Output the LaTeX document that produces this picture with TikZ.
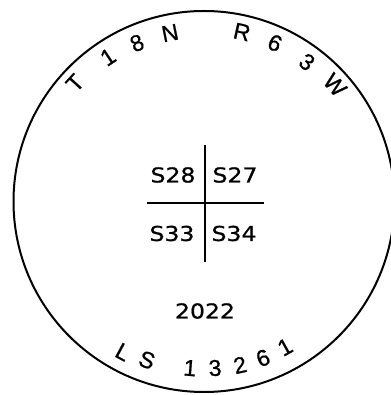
\documentclass[tikz,border=0pt]{standalone}
\usepackage{fontspec}
\newfontfamily\labfont[FakeStretch=1.15,FakeBold=0.8]{DejaVu Sans}
\newfontfamily\arcfont[FakeBold=0.8]{Liberation Sans}
\begin{document}
\begin{tikzpicture}[x=1pt,y=-1pt,
  lab/.style={inner sep=0pt,font=\labfont\fontsize{20.5}{22}\selectfont},
  arcl/.style={inner sep=0pt,font=\arcfont\fontsize{23}{25}\selectfont},
  line/.style={line width=2pt}]
\useasboundingbox (0,0) rectangle (390,395);
% outer circle
\draw[line] (204,201.5) circle[radius=190.5pt];
% cross
\coordinate (vt) at (205,145);
\coordinate (vb) at (205,262);
\coordinate (hl) at (147,203);
\coordinate (hr) at (264,203);
\draw[line] (vt) -- (vb);
\draw[line] (hl) -- (hr);
% section labels
\node[lab] (s28) at (173,175) {S28};
\node[lab] (s27) at (235,175) {S27};
\node[lab] (s33) at (172,233.5) {S33};
\node[lab] (s34) at (234,233.5) {S34};
\node[lab] (yr) at (205,311) {2022};
% top arc text
\node[arcl,rotate=47.4] (t1) at (75,83) {T};
\node[arcl,rotate=33.6] (t2) at (108,57) {1};
\node[arcl,rotate=22.9] (t3) at (137,43) {8};
\node[arcl,rotate=11.4] (t4) at (170,33) {N};
\node[arcl,rotate=-12.6] (t5) at (242,32) {R};
\node[arcl,rotate=-24.1] (t6) at (275,43) {6};
\node[arcl,rotate=-36.4] (t7) at (307,62) {3};
\node[arcl,rotate=-48.4] (t8) at (335,85) {W};
% bottom arc text
\node[arcl,rotate=-28.3] (b1) at (123,352) {L};
\node[arcl,rotate=-19.8] (b2) at (147,360) {S};
\node[arcl,rotate=-4.8] (b3) at (190,368) {1};
\node[arcl,rotate=3.8] (b4) at (215,368) {3};
\node[arcl,rotate=12.4] (b5) at (240,365) {2};
\node[arcl,rotate=20.7] (b6) at (263,358) {6};
\node[arcl,rotate=29.1] (b7) at (285,347) {1};
\end{tikzpicture}
\end{document}
